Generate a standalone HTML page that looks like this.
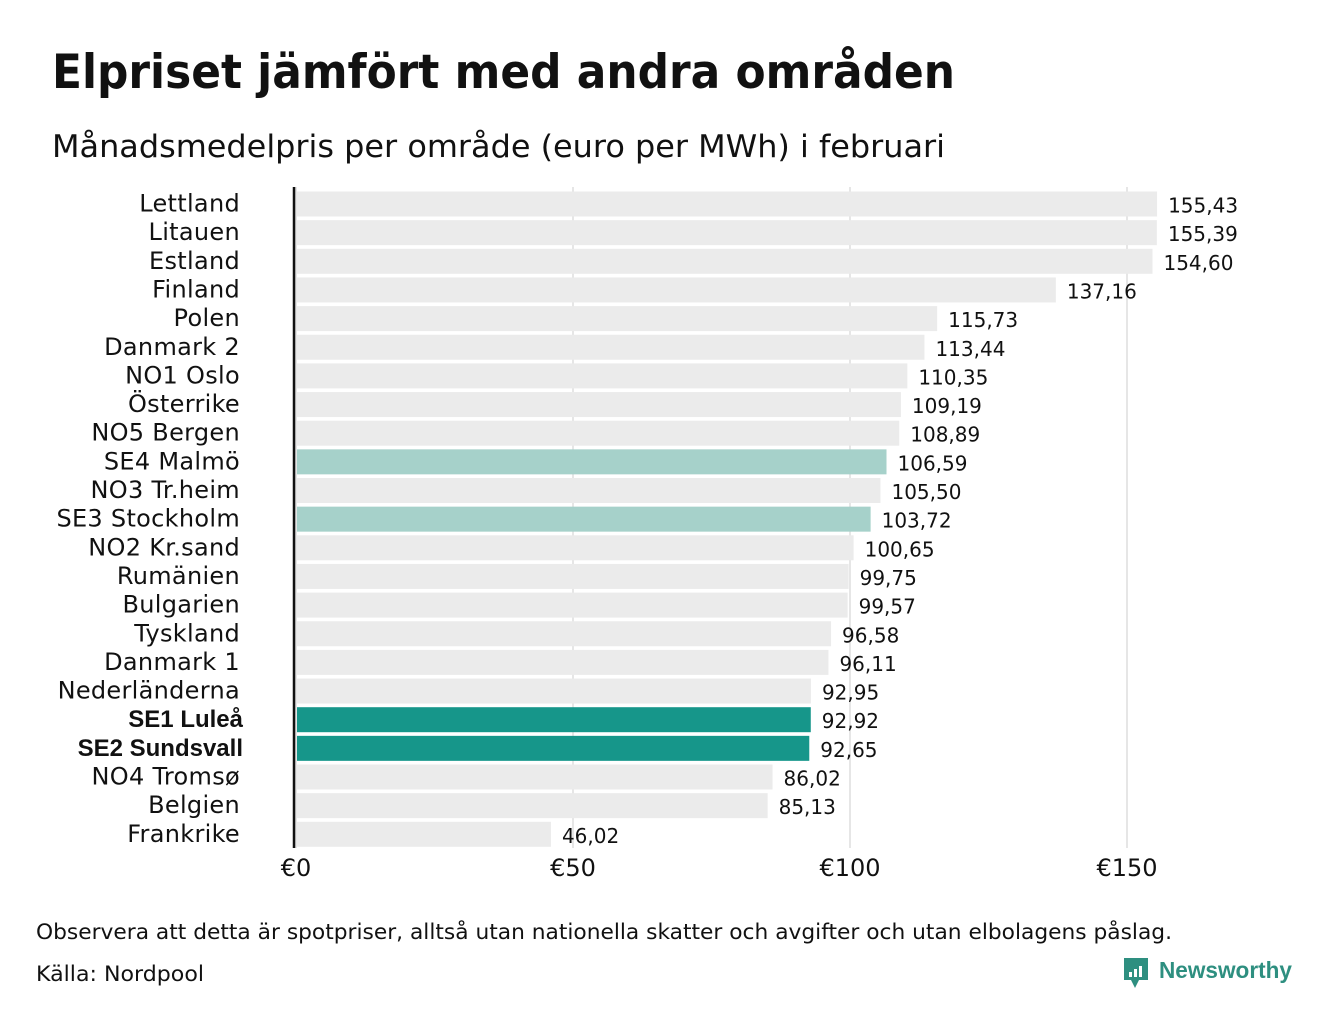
<!DOCTYPE html>
<html><head><meta charset="utf-8"><style>
body{margin:0;background:#fff;width:1340px;height:1020px;overflow:hidden;font-family:"Liberation Sans","DejaVu Sans",sans-serif;}
svg text{font-family:"DejaVu Sans","Liberation Sans",sans-serif;}
</style></head><body>
<svg width="1340" height="1020" id="c">
<text x="52" y="88" font-size="47" font-weight="bold" fill="#111" textLength="903" lengthAdjust="spacingAndGlyphs">Elpriset jämfört med andra områden</text>
<text x="52" y="157" font-size="31" fill="#111" textLength="893" lengthAdjust="spacingAndGlyphs">Månadsmedelpris per område (euro per MWh) i februari</text>
<g id="grid"></g><g id="bars"></g>
<line x1="294" y1="187" x2="294" y2="848" stroke="#111" stroke-width="2.5"/>
<text x="36" y="939" font-size="21" fill="#111" textLength="1136" lengthAdjust="spacingAndGlyphs">Observera att detta är spotpriser, alltså utan nationella skatter och avgifter och utan elbolagens påslag.</text>
<text x="36" y="981" font-size="21" fill="#111" textLength="168" lengthAdjust="spacingAndGlyphs">Källa: Nordpool</text>
<g>
<path d="M1124 958 h24 v22 h-9 l-4 8 l-4 -8 h-7 z" fill="#2e8f80"/>
<rect x="1129" y="972" width="3" height="5" fill="#fff"/><rect x="1134" y="969" width="3" height="8" fill="#fff"/><rect x="1139" y="966" width="3" height="11" fill="#fff"/>
<text x="1159" y="978" font-size="23" font-weight="bold" fill="#2e8f80" textLength="133" lengthAdjust="spacingAndGlyphs" style="font-family:'Liberation Sans',sans-serif">Newsworthy</text>
</g>
</svg>
<script>
const categories=["Lettland","Litauen","Estland","Finland","Polen","Danmark 2","NO1 Oslo","Österrike","NO5 Bergen","SE4 Malmö","NO3 Tr.heim","SE3 Stockholm","NO2 Kr.sand","Rumänien","Bulgarien","Tyskland","Danmark 1","Nederländerna","SE1 Luleå","SE2 Sundsvall","NO4 Tromsø","Belgien","Frankrike"];
const values=[155.43,155.39,154.60,137.16,115.73,113.44,110.35,109.19,108.89,106.59,105.50,103.72,100.65,99.75,99.57,96.58,96.11,92.95,92.92,92.65,86.02,85.13,46.02];
const highlightMid=["SE4 Malmö","SE3 Stockholm"];
const highlightStrong=["SE1 Luleå","SE2 Sundsvall"];
const ticks=[0,50,100,150];
const tickLabels=["€0","€50","€100","€150"];
const NS="http://www.w3.org/2000/svg";
const x=v=>296+v*5.54;
const y=i=>191.5+i*28.65;
const g=document.getElementById('grid'),b=document.getElementById('bars');
function mk(p,t,a){const e=document.createElementNS(NS,t);for(const k in a)e.setAttribute(k,a[k]);p.appendChild(e);return e;}
ticks.forEach((t,i)=>{
 const l=mk(g,'line',{x1:x(t),x2:x(t),y1:187,y2:848,stroke:'#ccc','stroke-width':1});
 
 
 const tx=mk(g,'text',{x:x(t),y:876,'font-size':24,'text-anchor':'middle',fill:'#111'});
 tx.textContent=tickLabels[i];
 
 
});
categories.forEach((c,i)=>{
 const v=values[i];
 const strong=highlightStrong.includes(c),mid=highlightMid.includes(c);
 const r=mk(b,'rect',{x:297,y:y(i),width:x(v)-297,height:25,fill:strong?'#16968a':mid?'#a6d1ca':'#ebebeb'});
 
 
 const lb=mk(b,'text',{x:240,y:y(i)+20,'font-size':23,'text-anchor':'end',fill:'#111'});
 if(strong){lb.setAttribute('font-weight','bold');lb.setAttribute('x','243');lb.setAttribute('font-size','24');lb.style.fontFamily='"Liberation Sans",sans-serif';}
 else{lb.setAttribute('font-size','24');lb.style.letterSpacing='0.3px';}
 lb.textContent=c;
 
 
 const vl=mk(b,'text',{x:x(v)+11,y:y(i)+21,'font-size':20,fill:'#111'});
 vl.textContent=v.toFixed(2).replace('.',',');
 
 
});
</script>
</body></html>
